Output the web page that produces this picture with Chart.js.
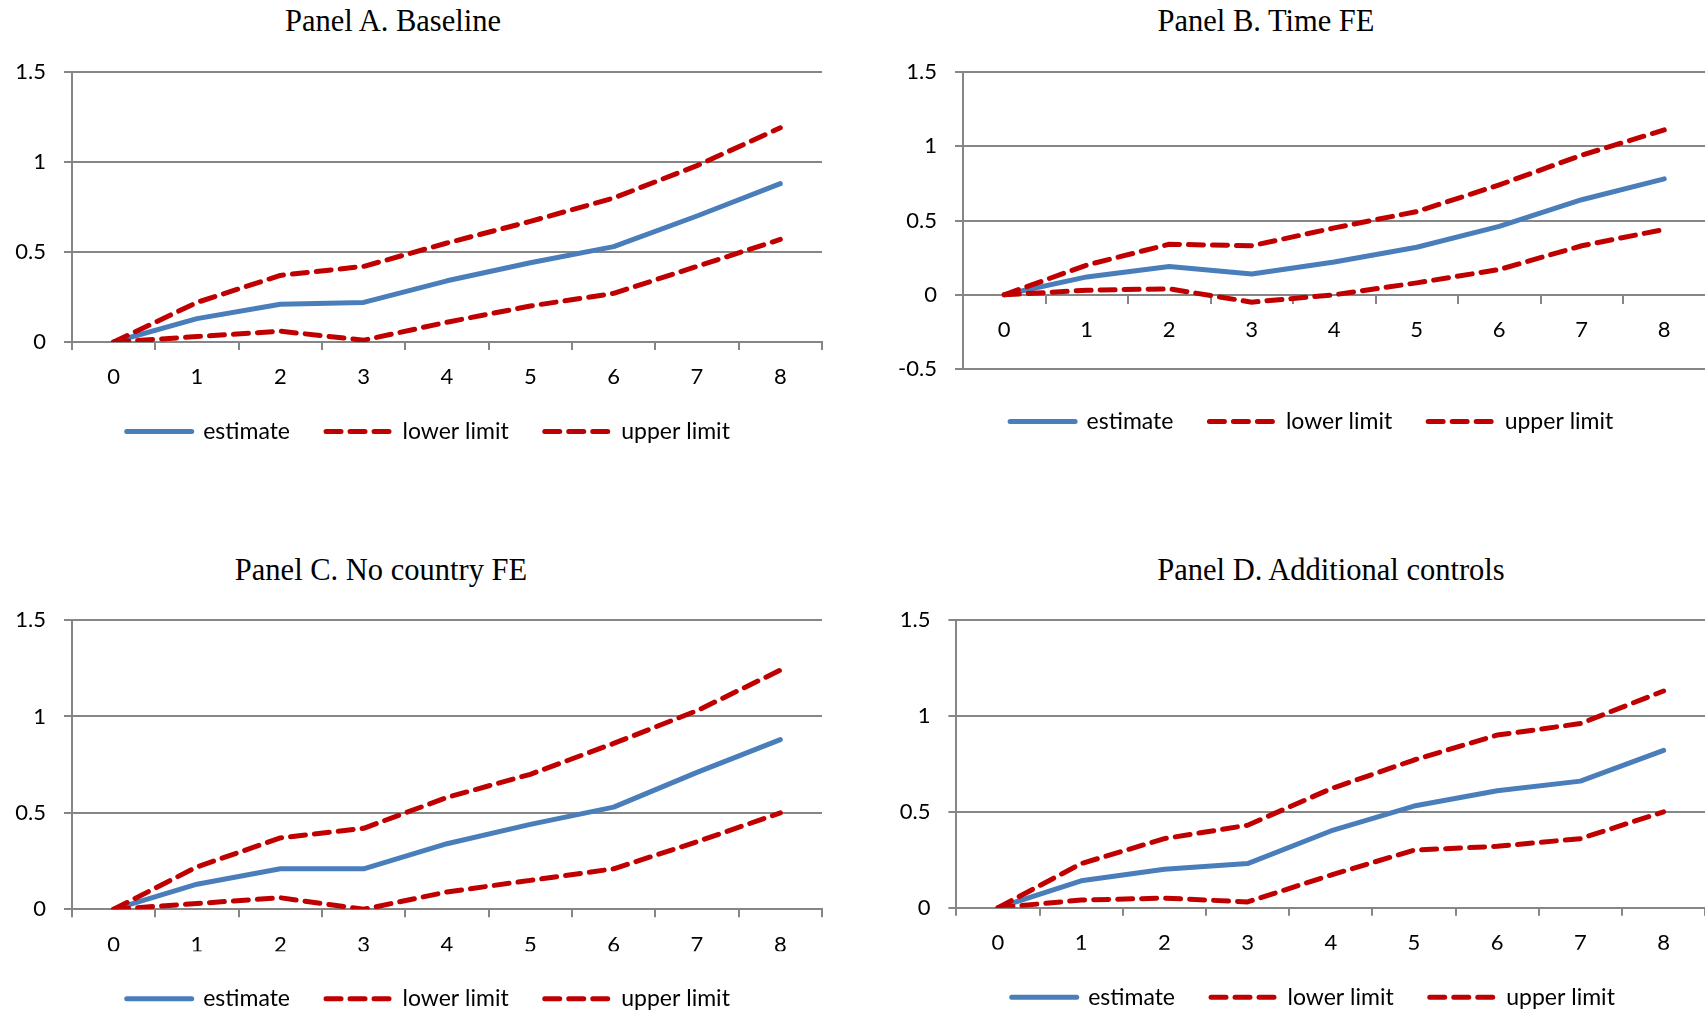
<!DOCTYPE html>
<html>
<head>
<meta charset="utf-8">
<script src="https://cdn.jsdelivr.net/npm/chart.js@4.4.1/dist/chart.umd.min.js"></script>
<style>
  html, body { margin: 0; padding: 0; background: #fff; overflow: hidden; width: 1705px; height: 1014px; }
  .panel { position: absolute; }
  .title {
    position: absolute; white-space: nowrap; transform: translateX(-50%); color: #000;
    font-family: 'Liberation Serif', 'Times New Roman', serif; font-size: 30.5px; line-height: 30px;
  }
</style>
</head>
<body>
<div class="title" style="left:393px;top:6px">Panel A. Baseline</div>
<div class="title" style="left:1266px;top:6px">Panel B. Time FE</div>
<div class="title" style="left:381px;top:555px">Panel C. No country FE</div>
<div class="title" style="left:1331px;top:555px">Panel D. Additional controls</div>

<canvas id="panelA" class="panel" width="850" height="470" style="left:0;top:0"></canvas>
<canvas id="panelB" class="panel" width="862" height="470" style="left:870px;top:0"></canvas>
<canvas id="panelC" class="panel" width="850" height="514" style="left:0;top:520px"></canvas>
<canvas id="panelD" class="panel" width="870" height="514" style="left:870px;top:520px"></canvas>

<script>
// horizons on the x axis
const horizons = ['0', '1', '2', '3', '4', '5', '6', '7', '8'];
const seriesNames = ['estimate', 'lower limit', 'upper limit'];

// Panel A. Baseline
const estimateA = [0, 0.13, 0.21, 0.22, 0.34, 0.44, 0.53, 0.70, 0.88];
const lowerA    = [0, 0.03, 0.06, 0.01, 0.11, 0.20, 0.27, 0.42, 0.57];
const upperA    = [0, 0.22, 0.37, 0.42, 0.55, 0.67, 0.80, 0.98, 1.19];

// Panel B. Time FE
const estimateB = [0, 0.12, 0.19, 0.14, 0.22, 0.32, 0.46, 0.64, 0.78];
const lowerB    = [0, 0.03, 0.04, -0.05, 0.00, 0.08, 0.17, 0.33, 0.44];
const upperB    = [0, 0.20, 0.34, 0.33, 0.45, 0.56, 0.74, 0.94, 1.11];

// Panel C. No country FE
const estimateC = [0, 0.13, 0.21, 0.21, 0.34, 0.44, 0.53, 0.71, 0.88];
const lowerC    = [0, 0.03, 0.06, 0.00, 0.09, 0.15, 0.21, 0.35, 0.50];
const upperC    = [0, 0.22, 0.37, 0.42, 0.58, 0.70, 0.86, 1.03, 1.24];

// Panel D. Additional controls
const estimateD = [0, 0.14, 0.20, 0.23, 0.40, 0.53, 0.61, 0.66, 0.82];
const lowerD    = [0, 0.04, 0.05, 0.03, 0.17, 0.30, 0.32, 0.36, 0.50];
const upperD    = [0, 0.23, 0.36, 0.43, 0.62, 0.77, 0.90, 0.96, 1.13];

const BLUE = '#4A7EBB';
const RED = '#C00000';
const GRID = '#868686';

Chart.defaults.font.family = 'Lato';
Chart.defaults.color = '#000';

function lineDataset(label, data, color, dashed, order) {
  return {
    label, data, order,
    yAxisID: 'y',
    borderColor: color,
    backgroundColor: color,
    borderWidth: 5,
    borderDash: dashed ? [15, 9] : [],
    borderCapStyle: 'round',
    borderJoinStyle: 'round',
    pointRadius: 0,
    tension: 0,
    fill: false
  };
}

function makePanel(canvasId, { estimate, lower, upper, yMin, padding, yAxisWidth, rightGap, axisAtZero, legendGap }) {
  return new Chart(document.getElementById(canvasId), {
    type: 'line',
    data: {
      labels: horizons,
      datasets: [
        lineDataset(seriesNames[0], estimate, BLUE, false, 2),
        lineDataset(seriesNames[1], lower, RED, true, 1),
        lineDataset(seriesNames[2], upper, RED, true, 1)
      ]
    },
    options: {
      responsive: false,
      animation: false,
      devicePixelRatio: 1,
      layout: { padding, autoPadding: false },
      plugins: {
        tooltip: { enabled: false },
        legend: {
          position: 'bottom',
          title: { display: legendGap > 0, text: '', padding: 0, font: { size: legendGap || 1, lineHeight: 1 } },
          labels: {
            usePointStyle: true,
            pointStyleWidth: 65,
            padding: 36,
            font: { size: 23 },
            color: '#000',
            // keep the line style of each series in the legend sample
            generateLabels: (chart) => chart.data.datasets.map((ds, i) => ({
              text: ds.label,
              datasetIndex: i,
              strokeStyle: ds.borderColor,
              fillStyle: ds.borderColor,
              lineWidth: ds.borderWidth,
              lineDash: ds.borderDash,
              lineCap: 'round',
              pointStyle: 'line',
              fontColor: '#000',
              hidden: false
            }))
          }
        }
      },
      scales: {
        x: {
          type: 'category',
          offset: true,
          position: axisAtZero ? { y: 0 } : 'bottom',
          grid: { offset: true, drawOnChartArea: false, drawTicks: true, tickLength: 8, color: GRID, lineWidth: 2 },
          border: { display: true, color: GRID, width: 2 },
          ticks: { padding: 14, maxRotation: 0, autoSkip: false, font: { size: 22 }, color: '#000' },
          afterFit: (scale) => { scale.height = axisAtZero ? 0 : 42; }
        },
        y: {
          min: yMin,
          max: 1.5,
          grid: { color: GRID, lineWidth: 2, tickLength: 8 },
          border: { display: true, color: GRID, width: 2 },
          ticks: {
            stepSize: 0.5, padding: 18, font: { size: 22 }, color: '#000',
            callback: (value) => String(Number(value.toFixed(1)))
          },
          afterFit: (scale) => { scale.width = yAxisWidth; }
        },
        // empty strip on the right so the legend sits where the original has it
        spacer: {
          type: 'linear',
          position: 'right',
          grid: { display: false, drawTicks: false },
          border: { display: false },
          ticks: { display: false },
          afterFit: (scale) => { scale.width = rightGap; }
        }
      }
    }
  });
}

makePanel('panelA', {
  estimate: estimateA, lower: lowerA, upper: upperA, yMin: 0,
  padding: { left: 8, right: 1.4, top: 72, bottom: 17 }, yAxisWidth: 64, rightGap: 26.6,
  axisAtZero: false, legendGap: 0
});
makePanel('panelB', {
  estimate: estimateB, lower: lowerB, upper: upperB, yMin: -0.5,
  padding: { left: 23, right: 1.6, top: 72, bottom: 27 }, yAxisWidth: 70, rightGap: 24.9,
  axisAtZero: true, legendGap: 5
});
makePanel('panelC', {
  estimate: estimateC, lower: lowerC, upper: upperC, yMin: 0,
  padding: { left: 8, right: 1.4, top: 100, bottom: 13.7 }, yAxisWidth: 64, rightGap: 26.6,
  axisAtZero: false, legendGap: 0
});
makePanel('panelD', {
  estimate: estimateD, lower: lowerD, upper: upperD, yMin: 0,
  padding: { left: 18, right: 1.4, top: 100, bottom: 15.3 }, yAxisWidth: 68.4, rightGap: 33.4,
  axisAtZero: false, legendGap: 0
});
</script>
</body>
</html>
